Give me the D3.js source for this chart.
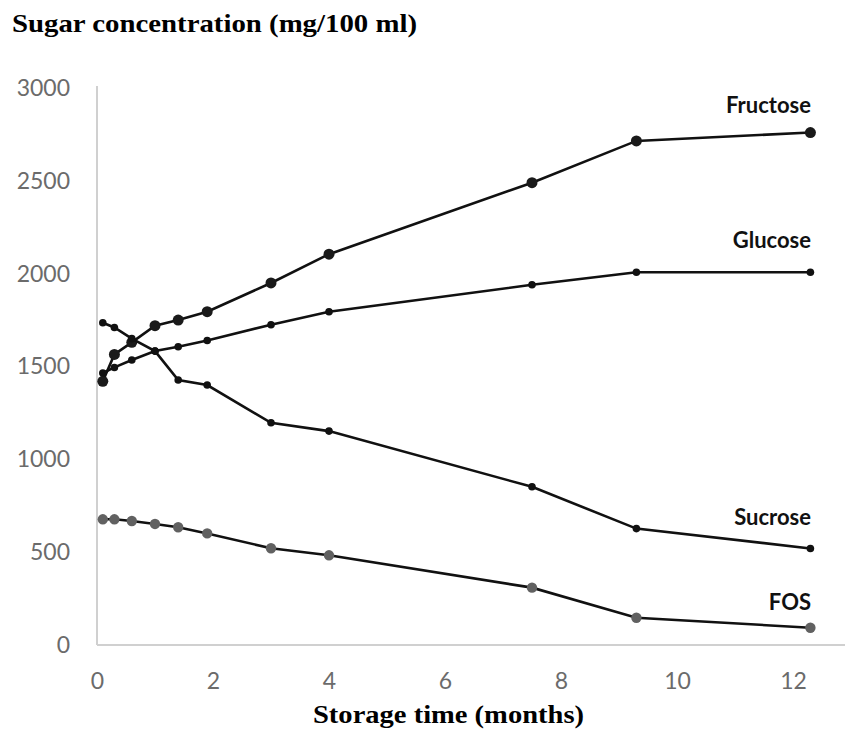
<!DOCTYPE html>
<html>
<head>
<meta charset="utf-8">
<script src="https://cdn.jsdelivr.net/npm/d3@7"></script>
<style>
  body { margin: 0; background: #fff; }
  .tick text { font-family: Lato, "Open Sans", sans-serif; fill: #6b6b6b; }
</style>
</head>
<body>
<div id="chart"></div>
<script>
// storage time in months
const months = [0.1, 0.3, 0.6, 1.0, 1.4, 1.9, 3.0, 4.0, 7.5, 9.3, 12.3];

const fructose = [1420, 1565, 1630, 1720, 1750, 1795, 1950, 2105, 2490, 2715, 2760];
const glucose  = [1465, 1495, 1535, 1583, 1606, 1640, 1725, 1795, 1940, 2008, 2008];
const sucrose  = [1736, 1710, 1650, 1583, 1427, 1400, 1197, 1152, 852, 627, 520];
const fos      = [677, 677, 668, 652, 634, 601, 521, 483, 309, 147, 93];

const xTicks = [0, 2, 4, 6, 8, 10, 12];
const yTicks = [0, 500, 1000, 1500, 2000, 2500, 3000];

const width = 847, height = 729;
const svg = d3.select('#chart').append('svg')
    .attr('width', width)
    .attr('height', height);

const x = d3.scaleLinear().domain([0, 12]).range([97, 793]);
const y = d3.scaleLinear().domain([0, 3000]).range([645, 88]);

// axes, no tick marks
svg.append('g')
    .attr('transform', 'translate(0, 645)')
    .call(d3.axisBottom(x).tickValues(xTicks).tickSize(0).tickPadding(28))
    .call(g => g.select('.domain').remove())
    .selectAll('text').style('font-size', '23px');

svg.append('g')
    .attr('transform', 'translate(97, 0)')
    .call(d3.axisLeft(y).tickValues(yTicks).tickFormat(d3.format('d')).tickSize(0).tickPadding(27))
    .call(g => g.select('.domain').remove())
    .selectAll('text').style('font-size', '23px');

// axis lines
svg.append('line')
    .attr('x1', 97).attr('x2', 845)
    .attr('y1', 645).attr('y2', 645)
    .style('stroke', '#d0d0d0').style('stroke-width', 2);
svg.append('line')
    .attr('x1', 97).attr('x2', 97)
    .attr('y1', 86).attr('y2', 645)
    .style('stroke', '#d0d0d0').style('stroke-width', 2);

const series = [
    { name: 'Fructose', values: fructose, r: 5.5, fill: '#1a1a1a', labelY: 113 },
    { name: 'Glucose', values: glucose, r: 3.8, fill: '#111', labelY: 248 },
    { name: 'Sucrose', values: sucrose, r: 3.8, fill: '#111', labelY: 525 },
    { name: 'FOS', values: fos, r: 5.2, fill: '#616161', labelY: 610 }
];

const line = d3.line()
    .x(d => x(d[0]))
    .y(d => y(d[1]));

series.forEach(s => {
    const pts = months.map((m, i) => [m, s.values[i]]);
    svg.append('path')
        .attr('d', line(pts))
        .style('fill', 'none')
        .style('stroke', '#111')
        .style('stroke-width', 2.6);
    svg.append('g').selectAll('circle')
        .data(pts)
        .join('circle')
        .attr('cx', d => x(d[0]))
        .attr('cy', d => y(d[1]))
        .attr('r', s.r)
        .style('fill', s.fill);
    svg.append('text')
        .attr('x', 811)
        .attr('y', s.labelY)
        .attr('text-anchor', 'end')
        .style('font-family', 'Lato, "Open Sans", sans-serif')
        .style('font-weight', 'bold')
        .style('font-size', '22px')
        .style('fill', '#111')
        .text(s.name);
});

// titles
svg.append('text')
    .attr('x', 12).attr('y', 32)
    .attr('textLength', 405).attr('lengthAdjust', 'spacingAndGlyphs')
    .style('font-family', '"Liberation Serif", serif')
    .style('font-weight', 'bold')
    .style('font-size', '25px')
    .style('fill', '#000')
    .text('Sugar concentration (mg/100 ml)');

svg.append('text')
    .attr('x', 313).attr('y', 723)
    .attr('textLength', 271).attr('lengthAdjust', 'spacingAndGlyphs')
    .style('font-family', '"Liberation Serif", serif')
    .style('font-weight', 'bold')
    .style('font-size', '25px')
    .style('fill', '#000')
    .text('Storage time (months)');
</script>
</body>
</html>
